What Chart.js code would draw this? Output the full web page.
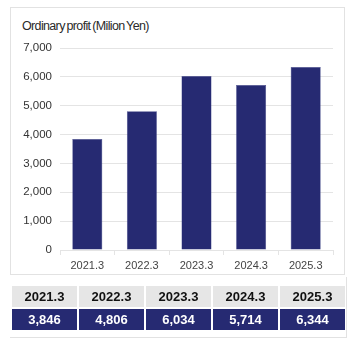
<!DOCTYPE html>
<html><head><meta charset="utf-8">
<script src="https://cdn.jsdelivr.net/npm/chart.js@4"></script>
<style>
html,body{margin:0;padding:0;background:#fff;width:359px;height:340px;overflow:hidden;font-family:"Liberation Sans",Arial,sans-serif;}
#box{position:absolute;left:10px;top:7px;width:335px;height:268px;border:1px solid #e2e2e2;box-sizing:border-box;}
#title{position:absolute;left:22px;top:19px;font-family:"Liberation Sans Narrow","Liberation Sans",sans-serif;font-size:12.5px;color:#2a2a2a;letter-spacing:-0.65px;word-spacing:-1px;}
#cv{position:absolute;left:0;top:0;}
#tbox{position:absolute;left:10px;top:277px;width:337px;height:61px;border-right:1px solid #e2e2e2;border-bottom:1px solid #e2e2e2;box-sizing:border-box;}
table{position:absolute;left:10px;top:284px;border-collapse:separate;border-spacing:2px;}
td{font-weight:bold;font-size:13px;text-align:center;padding:0;height:21px;width:65px;}
tr.h td{background:#e6e6e6;color:#111;}
tr.v td{background:#262a72;color:#fff;}
</style></head>
<body>
<div id="box"></div>
<div id="title">Ordinary profit (Milion Yen)</div>
<canvas id="cv" width="359" height="280"></canvas>
<div id="tbox"></div>
<table id="tbl"><tr class="h" id="hr"></tr><tr class="v" id="vr"></tr></table>
<script>
const categories = ["2021.3","2022.3","2023.3","2024.3","2025.3"];
const profit = [3846, 4806, 6034, 5714, 6344];
const yTicks = [0,1000,2000,3000,4000,5000,6000,7000];

const hr = document.getElementById('hr'), vr = document.getElementById('vr');
categories.forEach((c,i)=>{
  const a=document.createElement('td'); a.textContent=c; hr.appendChild(a);
  const b=document.createElement('td'); b.textContent=profit[i].toLocaleString('en-US'); vr.appendChild(b);
});

new Chart(document.getElementById('cv'), {
  type:'bar',
  data:{labels:categories, datasets:[{data:profit, backgroundColor:'#262a72', borderColor:'#3a3f85', borderWidth:0.5, barPercentage:0.55, categoryPercentage:1}]},
  options:{
    responsive:false, animation:false,
    layout:{padding:{left:12,right:26,top:48,bottom:4}},
    plugins:{legend:{display:false},tooltip:{enabled:false}},
    scales:{
      y:{min:0,max:7000,
        afterBuildTicks:s=>{s.ticks=yTicks.map(v=>({value:v}));},
        afterFit:s=>{s.width=48;},
        border:{display:false},
        grid:{color:'#e4e4e4',drawTicks:false,lineWidth:1},
        ticks:{padding:8,color:'#333',font:{family:'Liberation Sans',size:11.5},callback:v=>v.toLocaleString('en-US')}
      },
      x:{
        afterFit:s=>{s.height=26;},
        border:{display:true,color:'#e4e4e4'},
        grid:{drawOnChartArea:false,drawTicks:true,tickLength:5,color:'#e4e4e4',offset:true},
        ticks:{padding:4,color:'#444',font:{family:'Liberation Sans',size:11}}
      }
    }
  }
});
</script>
</body></html>
